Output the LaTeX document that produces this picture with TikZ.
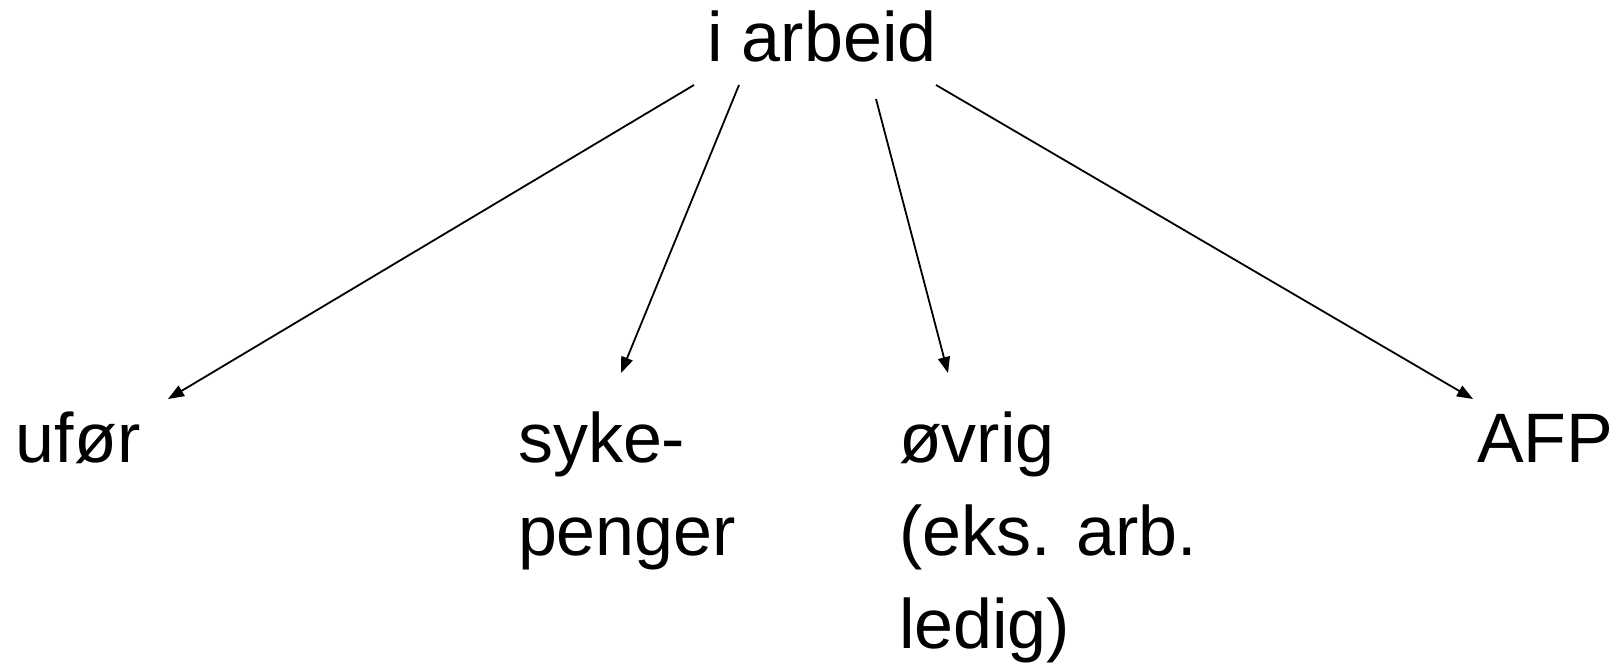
\documentclass[tikz,border=0pt]{standalone}
\usepackage{fontspec}
\setmainfont{Liberation Sans}
\usetikzlibrary{arrows.meta}
\begin{document}
\begin{tikzpicture}[x=0.5pt,y=-0.5pt,
  lbl/.style={anchor=base west,inner sep=0pt,outer sep=0pt,align=left,
    font=\fontsize{35pt}{46.5pt}\selectfont},
  conn/.style={line width=0.9pt,-{Triangle[length=8pt,width=6pt]}}]
\useasboundingbox (0,0) rectangle (1624,672);
% base anchor of a multi-line node is the baseline of its last line
\node[lbl] (top) at (707,62) {i arbeid};
\node[lbl] (ufor) at (16,463) {ufør};
\node[lbl] (syke) at (518,556) {syke-\\penger};
\node[lbl] (ovrig) at (899,649) {øvrig\\(eks. arb.\\ledig)};
\node[lbl] (afp) at (1477,463) {AFP};
\coordinate (s1) at (694,85);  \coordinate (t1) at (168,399);
\coordinate (s2) at (739,85);  \coordinate (t2) at (621,373);
\coordinate (s3) at (876,99);  \coordinate (t3) at (948,373);
\coordinate (s4) at (936,85);  \coordinate (t4) at (1473,399);
\draw[conn] (s1) -- (t1);
\draw[conn] (s2) -- (t2);
\draw[conn] (s3) -- (t3);
\draw[conn] (s4) -- (t4);
\end{tikzpicture}
\end{document}
